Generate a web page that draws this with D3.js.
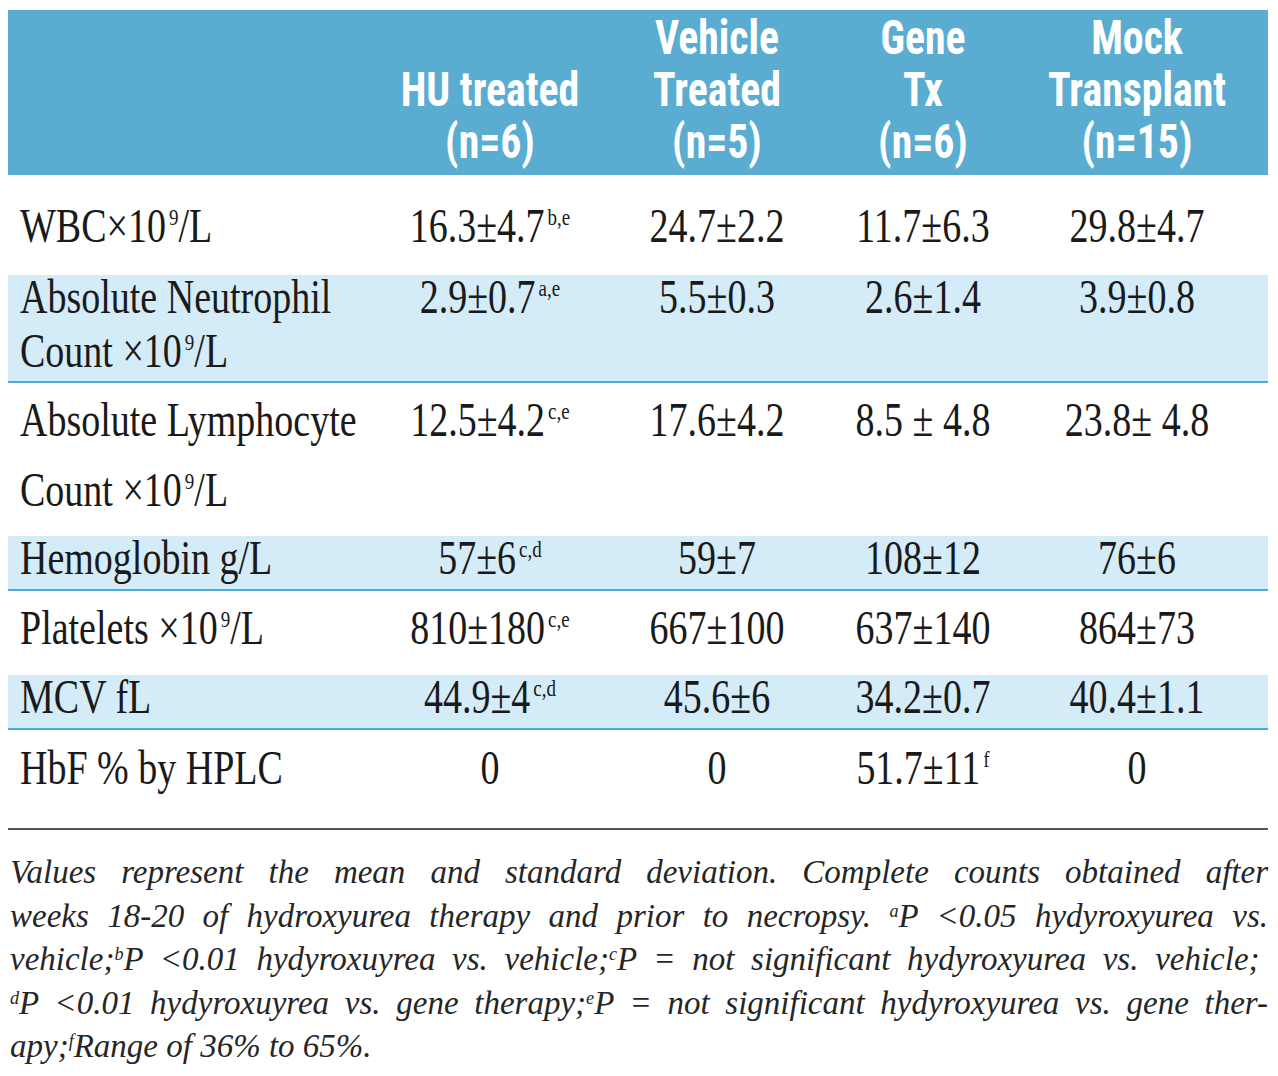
<!DOCTYPE html>
<html>
<head>
<meta charset="utf-8">
<script src="https://cdnjs.cloudflare.com/ajax/libs/d3/7.8.5/d3.min.js"></script>
<style>
  body { margin: 0; background: #fff; }
  .hdr { font-family: "Liberation Sans Narrow", "Roboto Condensed", "DejaVu Sans Condensed", Roboto, sans-serif; font-weight: bold; fill: #fff; }
  .cell { font-family: "Liberation Serif", "DejaVu Serif", serif; fill: #1a1a1a; }
  .note { font-family: "Liberation Serif", serif; font-style: italic; fill: #262626; }
</style>
</head>
<body>
<div id="vis"></div>
<script>
// ---- data ----
var groups = [["HU treated", "(n=6)"], ["Vehicle", "Treated", "(n=5)"], ["Gene", "Tx", "(n=6)"], ["Mock", "Transplant", "(n=15)"]];
var rowLabels = [
  [["WBC×10", "9", "/L"]],
  [["Absolute Neutrophil"], ["Count ×10", "9", "/L"]],
  [["Absolute Lymphocyte"], ["Count ×10", "9", "/L"]],
  [["Hemoglobin g/L"]],
  [["Platelets ×10", "9", "/L"]],
  [["MCV fL"]],
  [["HbF % by HPLC"]]
];
var huValues      = ["16.3±4.7", "2.9±0.7", "12.5±4.2", "57±6", "810±180", "44.9±4", "0"];
var huNotes       = ["b,e", "a,e", "c,e", "c,d", "c,e", "c,d", ""];
var vehicleValues = ["24.7±2.2", "5.5±0.3", "17.6±4.2", "59±7", "667±100", "45.6±6", "0"];
var geneValues    = ["11.7±6.3", "2.6±1.4", "8.5 ± 4.8", "108±12", "637±140", "34.2±0.7", "51.7±11"];
var geneNotes     = ["", "", "", "", "", "", "f"];
var mockValues    = ["29.8±4.7", "3.9±0.8", "23.8± 4.8", "76±6", "864±73", "40.4±1.1", "0"];
var shaded        = [false, true, false, true, false, true, false];

var footLines = [
  [["Values represent the mean and standard deviation. Complete counts obtained after"]],
  [["weeks 18-20 of hydroxyurea therapy and prior to necropsy. "], ["a", 1], ["P <0.05 hydyroxyurea vs."]],
  [["vehicle;"], ["b", 1], ["P <0.01 hydyroxuyrea vs. vehicle;"], ["c", 1], ["P = not significant  hydyroxyurea vs. vehicle;"]],
  [["d", 1], ["P <0.01 hydyroxuyrea vs. gene therapy;"], ["e", 1], ["P = not significant hydyroxyurea vs. gene ther-"]],
  [["apy;"], ["f", 1], ["Range of 36% to 65%."]]
];

// ---- layout ----
var W = 1278, H = 1076;
var left = 8, right = 1268;
var headTop = 10, headBottom = 175;
var rowHeights = [100, 107, 154, 54, 85, 54, 100];
var rowBaseline = [67, 38, 54, 38, 54, 38, 55];   // first-line baseline inside row
var lineGap = [0, 54, 70, 0, 0, 0, 0];
var colCenters = [490, 717, 923, 1137];
var cellSize = 38, stretchY = 1.26;

var rowTops = [headBottom];
rowHeights.forEach(function(h, i) { rowTops.push(rowTops[i] + h); });

var yRow = d3.scaleOrdinal().domain(d3.range(rowLabels.length)).range(rowTops);
var xCol = d3.scaleOrdinal().domain(d3.range(groups.length)).range(colCenters);

var svg = d3.select("#vis").append("svg")
  .attr("width", W).attr("height", H)
  .attr("viewBox", [0, 0, W, H]);

// header band
svg.append("rect")
  .attr("x", left).attr("y", headTop)
  .attr("width", right - left).attr("height", headBottom - headTop)
  .attr("fill", "#5aadd1");

var hdr = svg.append("g").selectAll("text")
  .data(groups)
  .join("text")
  .attr("class", "hdr")
  .attr("text-anchor", "middle")
  .attr("font-size", 44)
  .attr("transform", function(d, i) { return "translate(" + xCol(i) + ",0) scale(0.95,1.08)"; });
hdr.selectAll("tspan")
  .data(function(d) { return d.map(function(t, k) { return {t: t, k: k, n: d.length}; }); })
  .join("tspan")
  .attr("x", 0)
  .attr("y", function(d) { return (158 - (d.n - 1 - d.k) * 52) / 1.08; })
  .text(function(d) { return d.t; });

// shaded bands + rules
var rows = rowLabels.map(function(l, i) { return i; });
svg.append("g").selectAll("rect")
  .data(rows.filter(function(i) { return shaded[i]; }))
  .join("rect")
  .attr("x", left).attr("y", function(i) { return yRow(i); })
  .attr("width", right - left).attr("height", function(i) { return rowHeights[i]; })
  .attr("fill", "#d4ebf8");
svg.append("g").selectAll("line")
  .data(rows.filter(function(i) { return shaded[i]; }))
  .join("line")
  .attr("x1", left).attr("x2", right)
  .attr("y1", function(i) { return yRow(i) + rowHeights[i]; })
  .attr("y2", function(i) { return yRow(i) + rowHeights[i]; })
  .attr("stroke", "#4aaed4").attr("stroke-width", 2);

// text helper: runs alternate normal / superscript
function cellText(x, y, anchor, runs) {
  var t = svg.append("text").attr("class", "cell")
    .attr("text-anchor", anchor)
    .attr("font-size", cellSize)
    .attr("transform", "translate(" + x + "," + y + ") scale(1," + stretchY + ")");
  runs.forEach(function(r, k) {
    var sup = (k % 2 === 1);
    t.append("tspan")
      .attr("font-size", sup ? cellSize * 0.5 : cellSize)
      .attr("dx", sup ? 3 : null)
      .attr("dy", sup ? -cellSize * 0.36 : (k > 0 ? cellSize * 0.36 : 0))
      .text(r);
  });
  return t;
}

// row labels
rows.forEach(function(i) {
  rowLabels[i].forEach(function(line, li) {
    cellText(20, yRow(i) + rowBaseline[i] + li * lineGap[i], "start", line);
  });
});

// values
var cols = [[huValues, huNotes], [vehicleValues, null], [geneValues, geneNotes], [mockValues, null]];
cols.forEach(function(c, j) {
  rows.forEach(function(i) {
    var runs = [c[0][i]];
    if (c[1] && c[1][i]) runs.push(c[1][i]);
    cellText(xCol(j), yRow(i) + rowBaseline[i], "middle", runs);
  });
});

// bottom rule
svg.append("line")
  .attr("x1", left).attr("x2", right)
  .attr("y1", 829).attr("y2", 829)
  .attr("stroke", "#555").attr("stroke-width", 2);

// footnote, justified by word-spacing
var noteSize = 33;
footLines.forEach(function(line, li) {
  var t = svg.append("text").attr("class", "note")
    .attr("x", left + 2)
    .attr("y", 883 + li * 43.5)
    .attr("font-size", noteSize);
  line.forEach(function(seg) {
    t.append("tspan")
      .attr("font-size", seg[1] ? noteSize * 0.55 : noteSize)
      .attr("baseline-shift", seg[1] ? "super" : null)
      .text(seg[0]);
  });
  if (li < footLines.length - 1) {
    var w = t.node().getComputedTextLength();
    var spaces = line.map(function(s) { return s[0]; }).join("").split(" ").length - 1;
    var extra = (right - left - 2 - w) / spaces;
    t.style("word-spacing", extra + "px");
  }
});
</script>
</body>
</html>
